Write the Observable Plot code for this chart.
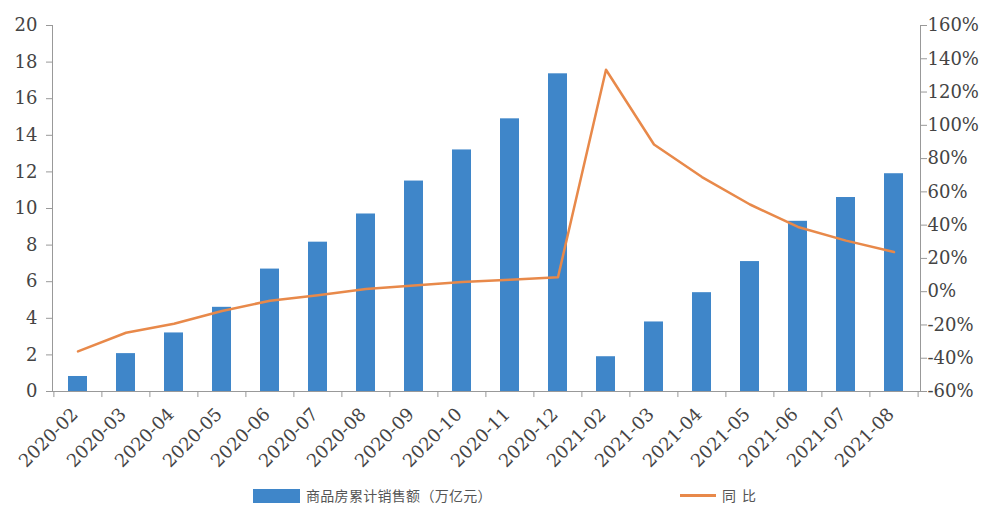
<!DOCTYPE html>
<html><head><meta charset="utf-8">
<script src="https://cdn.jsdelivr.net/npm/d3@7"></script>
<script src="https://cdn.jsdelivr.net/npm/@observablehq/plot@0.6"></script>
<style>
body{margin:0;background:#fff;}
#chart{width:984px;position:relative;}
#chart svg text{font-family:"DejaVu Serif",serif;}
.legend{position:relative;height:33px;font-family:"Noto Sans CJK SC",sans-serif;font-size:14px;color:#555;}
.legend span{position:absolute;}
.sw{left:253px;top:9px;width:47px;height:14px;background:#3f86c9;}
.t1{left:306px;top:5px;letter-spacing:0.3px;}
.ln{left:680px;top:14px;width:36px;height:3px;background:#e8894a;}
.t2{left:722px;top:5px;letter-spacing:6px;}
</style></head>
<body><div id="chart"></div>
<script>
const months = ["2020-02","2020-03","2020-04","2020-05","2020-06","2020-07","2020-08","2020-09","2020-10","2020-11","2020-12","2021-02","2021-03","2021-04","2021-05","2021-06","2021-07","2021-08"];
const sales = [0.82,2.07,3.2,4.6,6.69,8.16,9.7,11.5,13.2,14.9,17.36,1.9,3.8,5.4,7.1,9.3,10.6,11.9];
const yoy = [-35.9,-24.7,-19.3,-11.6,-5.4,-2.1,1.6,3.7,5.8,7.2,8.7,133.4,88.5,68.9,52.4,38.9,30.7,23.8];
const rightTicks = [-60,-40,-20,0,20,40,60,80,100,120,140,160];
const leftTicks = [0,2,4,6,8,10,12,14,16,18,20];
const legendLabels = ["商品房累计销售额（万亿元）", "同比"];

const toLeft = p => (p + 60) / 11;   // map % domain [-60,160] onto [0,20]
const data = months.map((m,i)=>({m, v:sales[i], p:yoy[i]}));
const W = 984, ML = 52, MR = 64;
const step = (W - ML - MR) / months.length;

const plot = Plot.plot({
  width: W, height: 480,
  marginLeft: ML, marginRight: MR, marginTop: 25, marginBottom: 89,
  style: {fontFamily: '"DejaVu Serif", serif', fontSize: "18px", color: "#444", background: "#fff"},
  x: {domain: months, paddingInner: 0.6, paddingOuter: 0.3, label: null},
  y: {domain: [0, 20], label: null},
  marks: [
    Plot.barY(data, {x: "m", y: "v", fill: "#3f86c9"}),
    Plot.ruleY([0], {stroke: "#999", strokeWidth: 1.2}),
    Plot.frame({anchor: "left", stroke: "#999"}),
    Plot.frame({anchor: "right", stroke: "#999"}),
    Plot.ruleX(months, {x: d => d, y1: 0, y2: -0.33, dx: -step/2, stroke: "#999"}),
    Plot.ruleX(months.slice(-1), {x: d => d, y1: 0, y2: -0.33, dx: step/2, stroke: "#999"}),
    Plot.lineY(data, {x: "m", y: d => toLeft(d.p), stroke: "#e8894a", strokeWidth: 2.5}),
    Plot.axisY(leftTicks, {anchor: "left", tickSize: 6, tickPadding: 9, stroke: "#999", label: null, fontSize: 18}),
    Plot.axisY(rightTicks.map(toLeft), {anchor: "right", tickSize: 6, tickPadding: 1, stroke: "#999", label: null,
      tickFormat: v => Math.round(v*11 - 60) + "%", fontSize: 18}),
    Plot.axisX({tickSize: 0, tickRotate: -45, label: null, fontSize: 18, textAnchor: "end", dx: -3, dy: 8})
  ]
});
document.getElementById("chart").appendChild(plot);
const lg = document.createElement("div");
lg.className = "legend";
lg.innerHTML = `<span class="sw"></span><span class="t1">${legendLabels[0]}</span><span class="ln"></span><span class="t2">${legendLabels[1]}</span>`;
document.getElementById("chart").appendChild(lg);
</script></body></html>
